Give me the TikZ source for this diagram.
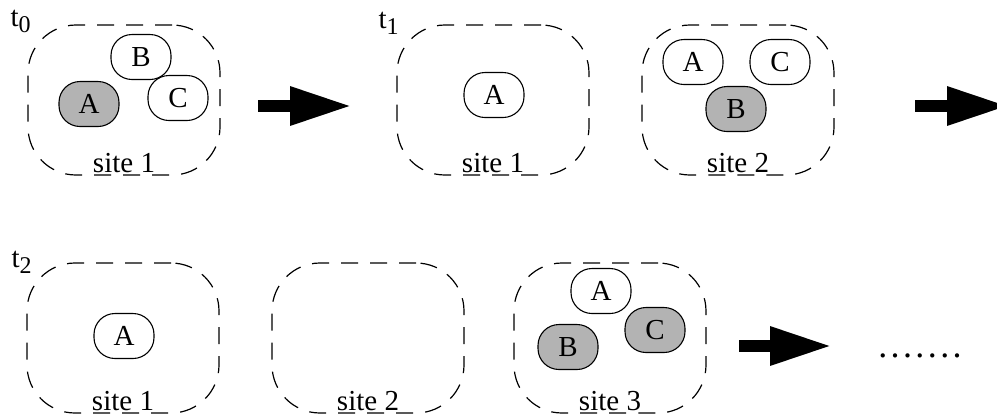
\documentclass[tikz,border=0pt]{standalone}
\usepackage{fontspec}
\setmainfont{Liberation Serif}
\usetikzlibrary{arrows.meta,positioning}
\definecolor{busygray}{RGB}{179,179,179}
\tikzset
{
  sitebox/.style   = {draw=black, dashed, dash pattern=on 17bp off 12bp, line width=1.2bp, rounded corners=48bp, minimum width=192bp, minimum height=150bp, inner sep=0pt},
  agent/.style     = {draw=black, line width=1.1bp, rounded corners=21bp, minimum width=60bp, minimum height=45bp, inner sep=0pt, font=\fontsize{29bp}{32bp}\selectfont},
  busy/.style      = {agent, fill=busygray},
  sitelabel/.style = {anchor=base, inner sep=0pt, font=\fontsize{29bp}{32bp}\selectfont},
  timelabel/.style = {anchor=base west, inner sep=0pt, font=\fontsize{29bp}{32bp}\selectfont},
  bigarrow/.style  = {line width=12bp, -{Triangle[length=62bp,width=36bp]}}
}
\newcommand{\tsub}[1]{t\raisebox{-6bp}{\fontsize{24bp}{26bp}\selectfont #1}}
\newcommand{\spaceddots}{.\kern3.4bp.\kern3.4bp.\kern3.4bp.\kern3.4bp.\kern3.4bp.\kern3.4bp.}

\begin{document}
\begin{tikzpicture}[x=1bp,y=-1bp]
  \useasboundingbox (0,0) rectangle (997,415);
  % time t0
  \node [sitebox] (s0a) at (124,100) {};
  \node [busy]  (s0aA) at (89,104) {A};
  \node [agent] (s0aB) at (141,57) {B};
  \node [agent] (s0aC) at (178,98) {C};
  \node [sitelabel] (l0a) at ([yshift=3bp]s0a.south) {site 1};
  \node [timelabel] (t0) at ([xshift=-17bp,yshift=-2bp]s0a.north west) {\tsub{0}};
  % time t1
  \node [sitebox] (s1a) at (493,100) {};
  \node [agent] (s1aA) at (494,95) {A};
  \node [sitelabel] (l1a) at ([yshift=3bp]s1a.south) {site 1};
  \node [sitebox] (s1b) at (738,100) {};
  \node [agent] (s1bA) at (693,62) {A};
  \node [agent] (s1bC) at (780,62) {C};
  \node [busy]  (s1bB) at (736,109) {B};
  \node [sitelabel] (l1b) at ([yshift=3bp]s1b.south) {site 2};
  \node [timelabel] (t1) at ([xshift=-18bp,yshift=-4bp]s1a.north west) {\tsub{1}};
  % time t2
  \node [sitebox] (s2a) at (123,338) {};
  \node [agent] (s2aA) at (124,336) {A};
  \node [sitelabel] (l2a) at ([yshift=3bp]s2a.south) {site 1};
  \node [sitebox] (s2b) at (368,338) {};
  \node [sitelabel] (l2b) at ([yshift=3bp]s2b.south) {site 2};
  \node [sitebox] (s2c) at (610,338) {};
  \node [agent] (s2cA) at (601,291) {A};
  \node [busy]  (s2cC) at (655,330) {C};
  \node [busy]  (s2cB) at (568,347) {B};
  \node [sitelabel] (l2c) at ([yshift=3bp]s2c.south) {site 3};
  \node [timelabel] (t2) at ([xshift=-15bp,yshift=-5bp]s2a.north west) {\tsub{2}};
  % steps
  \coordinate (a0from) at (258,106);
  \coordinate (a0to)   at (352,106);
  \coordinate (a1from) at (915,106);
  \coordinate (a1to)   at (1009,106);
  \coordinate (a2from) at (739,346);
  \coordinate (a2to)   at (832,346);
  \draw [bigarrow] (a0from) -- (a0to);
  \draw [bigarrow] (a1from) -- (a1to);
  \draw [bigarrow] (a2from) -- (a2to);
  \node [sitelabel, font=\fontsize{36bp}{40bp}\selectfont] (more) at (920,357) {\spaceddots};
\end{tikzpicture}
\end{document}
